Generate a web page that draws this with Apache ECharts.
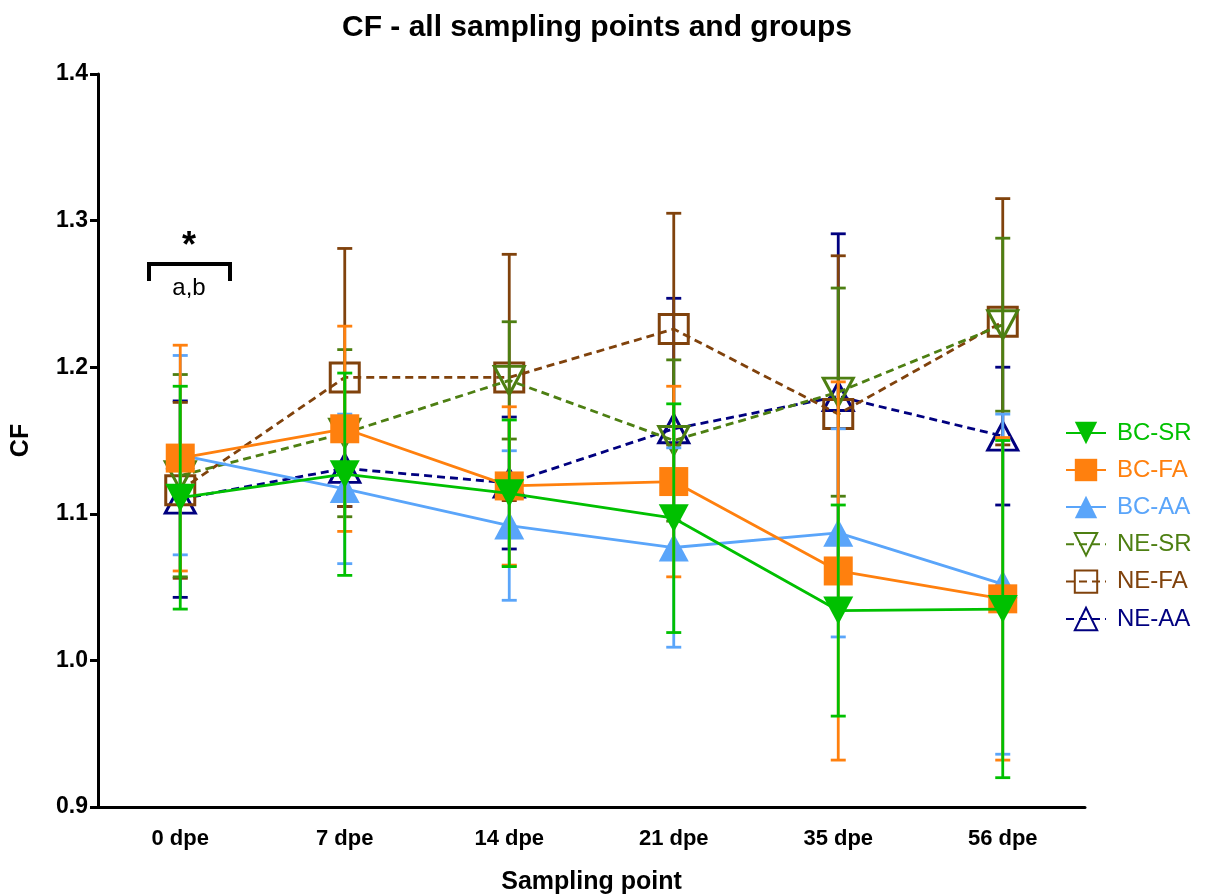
<!DOCTYPE html>
<html><head><meta charset="utf-8">
<script src="https://cdn.jsdelivr.net/npm/echarts@6/dist/echarts.min.js"></script>
<style>html,body{margin:0;padding:0;background:#fff}#c{width:1207px;height:894px}</style>
</head><body><div id="c"></div>
<script>
const categories = ['0 dpe','7 dpe','14 dpe','21 dpe','35 dpe','56 dpe'];
const yTicks = [0.9, 1.0, 1.1, 1.2, 1.3, 1.4];
const seriesNames = ['BC-SR','BC-FA','BC-AA','NE-SR','NE-FA','NE-AA'];
const bcSrMean = [1.111, 1.127, 1.114, 1.097, 1.034, 1.035];
const bcSrSd   = [0.076, 0.069, 0.050, 0.078, 0.072, 0.115];
const bcFaMean = [1.138, 1.158, 1.119, 1.122, 1.061, 1.042];
const bcFaSd   = [0.077, 0.070, 0.054, 0.065, 0.129, 0.110];
const bcAaMean = [1.140, 1.117, 1.092, 1.077, 1.087, 1.052];
const bcAaSd   = [0.068, 0.051, 0.051, 0.068, 0.071, 0.116];
const neSrMean = [1.126, 1.155, 1.191, 1.150, 1.183, 1.229];
const neSrSd   = [0.069, 0.057, 0.040, 0.055, 0.071, 0.059];
const neFaMean = [1.116, 1.193, 1.193, 1.226, 1.168, 1.231];
const neFaSd   = [0.060, 0.088, 0.084, 0.079, 0.108, 0.084];
const neAaMean = [1.110, 1.131, 1.121, 1.158, 1.180, 1.153];
const neAaSd   = [0.067, 0.026, 0.045, 0.089, 0.111, 0.047];

const colors = {'BC-SR':'#00C000','BC-FA':'#FF800E','BC-AA':'#5AA5FA','NE-SR':'#4D7F12','NE-FA':'#80420C','NE-AA':'#00007F'};
const groups = [
  {name:'NE-AA', mean:neAaMean, sd:neAaSd, symbol:'triangle', rot:0, filled:false, dashed:true},
  {name:'NE-FA', mean:neFaMean, sd:neFaSd, symbol:'rect', rot:0, filled:false, dashed:true},
  {name:'NE-SR', mean:neSrMean, sd:neSrSd, symbol:'triangle', rot:180, filled:false, dashed:true},
  {name:'BC-AA', mean:bcAaMean, sd:bcAaSd, symbol:'triangle', rot:0, filled:true, dashed:false},
  {name:'BC-FA', mean:bcFaMean, sd:bcFaSd, symbol:'rect', rot:0, filled:true, dashed:false},
  {name:'BC-SR', mean:bcSrMean, sd:bcSrSd, symbol:'triangle', rot:180, filled:true, dashed:false}
];

const series = [];
groups.forEach((g, gi) => {
  const c = colors[g.name];
  series.push({
    name: g.name, type: 'line', data: g.mean,
    symbol: g.symbol, symbolRotate: g.rot,
    symbolSize: g.symbol === 'rect' ? 29 : [30, 28],
    showAllSymbol: true,
    lineStyle: {color: c, width: 2.8, type: g.dashed ? [8, 5] : 'solid'},
    itemStyle: g.filled ? {color: c, borderWidth: 0} : {color: 'rgba(255,255,255,0)', borderColor: c, borderWidth: 3},
    z: 2 + gi * 2, emphasis: {disabled: true}, animation: false
  });
  series.push({
    name: g.name, type: 'custom', z: 3 + gi * 2, animation: false, silent: true,
    data: g.mean.map((m, i) => [i, m - g.sd[i], m + g.sd[i]]),
    encode: {x: 0, y: [1, 2]},
    renderItem: function (params, api) {
      const lo = api.coord([api.value(0), api.value(1)]);
      const hi = api.coord([api.value(0), api.value(2)]);
      const hw = 7.5;
      const st = {stroke: c, lineWidth: 2.8, fill: null};
      return {type: 'group', children: [
        {type: 'line', shape: {x1: hi[0], y1: hi[1], x2: lo[0], y2: lo[1]}, style: st},
        {type: 'line', shape: {x1: hi[0] - hw, y1: hi[1], x2: hi[0] + hw, y2: hi[1]}, style: st},
        {type: 'line', shape: {x1: lo[0] - hw, y1: lo[1], x2: lo[0] + hw, y2: lo[1]}, style: st}
      ]};
    }
  });
});

const chart = echarts.init(document.getElementById('c'), null, {renderer: 'canvas'});
const font = '"Liberation Sans", Arial, sans-serif';
chart.setOption({
  animation: false,
  backgroundColor: '#fff',
  title: {text: 'CF - all sampling points and groups', left: 592, top: 8, textAlign: 'center',
    textStyle: {fontFamily: font, fontWeight: 'bold', fontSize: 30, color: '#000'}},
  grid: {left: 98, right: 122, top: 74, bottom: 87, containLabel: false, outerBoundsMode: 'none'},
  legend: {
    orient: 'vertical', left: 1060, top: 416, itemGap: 13, itemWidth: 40, itemHeight: 28,
    data: seriesNames.map(n => ({name: n, textStyle: {color: colors[n]}})),
    textStyle: {fontFamily: font, fontSize: 24, padding: [0, 0, 0, 6]}, selectedMode: false
  },
  xAxis: {
    type: 'category', data: categories, boundaryGap: true,
    axisLine: {lineStyle: {color: '#000', width: 3}},
    axisTick: {alignWithLabel: true, length: 8, lineStyle: {width: 3, color: '#000'}},
    axisLabel: {fontFamily: font, fontWeight: 'bold', fontSize: 22, color: '#000', margin: 21},
    name: 'Sampling point', nameLocation: 'middle', nameGap: 63,
    nameTextStyle: {fontFamily: font, fontWeight: 'bold', fontSize: 25, color: '#000'}
  },
  yAxis: {
    type: 'value', min: yTicks[0], max: yTicks[yTicks.length - 1], interval: 0.1,
    axisLine: {show: true, lineStyle: {color: '#000', width: 3}},
    axisTick: {show: true, length: 8, lineStyle: {width: 3, color: '#000'}},
    splitLine: {show: false},
    axisLabel: {fontFamily: font, fontWeight: 'bold', fontSize: 23, color: '#000', margin: 10,
      formatter: v => v.toFixed(1)},
    name: 'CF', nameLocation: 'middle', nameGap: 64,
    nameTextStyle: {fontFamily: font, fontWeight: 'bold', fontSize: 25, color: '#000'}
  },
  series: series,
  graphic: [
    {type: 'polyline', shape: {points: [[149, 281], [149, 264], [230, 264], [230, 281]]},
      style: {stroke: '#000', lineWidth: 4, fill: null}, z: 100},
    {type: 'text', x: 189, y: 247, style: {text: '*', fontFamily: font, fontWeight: 'bold', fontSize: 36,
      fill: '#000', align: 'center', verticalAlign: 'middle'}, z: 100},
    {type: 'text', x: 189, y: 288, style: {text: 'a,b', fontFamily: font, fontSize: 24,
      fill: '#000', align: 'center', verticalAlign: 'middle'}, z: 100}
  ]
});
</script></body></html>
